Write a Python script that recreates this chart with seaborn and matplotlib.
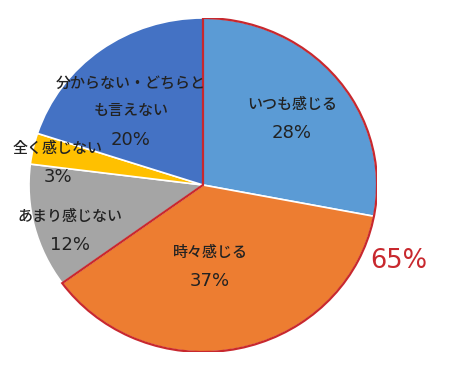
import matplotlib
matplotlib.use("Agg")
import matplotlib.pyplot as plt
from matplotlib.patches import Wedge
import seaborn as sns

categories = ["いつも感じる", "時々感じる", "あまり感じない", "全く感じない", "分からない・どちらと\nも言えない"]
values = [28, 37, 12, 3, 20]
pct_labels = ["28%", "37%", "12%", "3%", "20%"]
colors = ["#5B9BD5", "#ED7D31", "#A5A5A5", "#FFC000", "#4472C4"]
total_label = "65%"

sns.set_theme(style="white")
plt.rcParams['font.family'] = ['Noto Sans CJK JP', 'DejaVu Sans']

fig = plt.figure(figsize=(4.55, 3.67), dpi=100)
cx, cy, rx, ry = 203, 185, 174, 167
W, H = 455, 367
ax = fig.add_axes([(cx - rx) / W, (H - (cy + ry)) / H, 2 * rx / W, 2 * ry / H])
ax.pie(values, colors=colors, startangle=90, counterclock=False,
       wedgeprops=dict(edgecolor="white", linewidth=1.2), radius=1)
ax.set_aspect("auto")
ax.set_xlim(-1, 1)
ax.set_ylim(-1, 1)
ax.axis("off")

# red outline around first two slices
end_angle = 90 - 360 * (values[0] + values[1]) / sum(values)
ax.add_patch(Wedge((0, 0), 1, end_angle, 90, fill=False, edgecolor="#C8282E", linewidth=1.6, zorder=5))

def px(x, y):
    return (x - cx) / rx, (cy - y) / ry

txt = "#222222"
fs = 10.8
# (x, first line y, percent y)
pos = [(292, 105, 133), (210, 252, 281), (70, 217, 245), (58, 148, 177), (131, 83, 140)]
for cat, pl, (x, y1, y2) in zip(categories, pct_labels, pos):
    for i, line in enumerate(cat.split("\n")):
        X, Y = px(x, y1 + 28 * i)
        ax.text(X, Y, line, ha="center", va="center", fontsize=fs, color=txt,
                fontweight="medium", zorder=6)
    X, Y = px(x, y2)
    ax.text(X, Y, pl, ha="center", va="center", fontsize=13, color=txt,
            family="DejaVu Sans", zorder=6)

X, Y = px(399, 261)
ax.text(X, Y, total_label, ha="center", va="center", fontsize=18.5, color="#C8282E",
        family="DejaVu Sans", zorder=6)

fig.savefig("out.png", dpi=100)
